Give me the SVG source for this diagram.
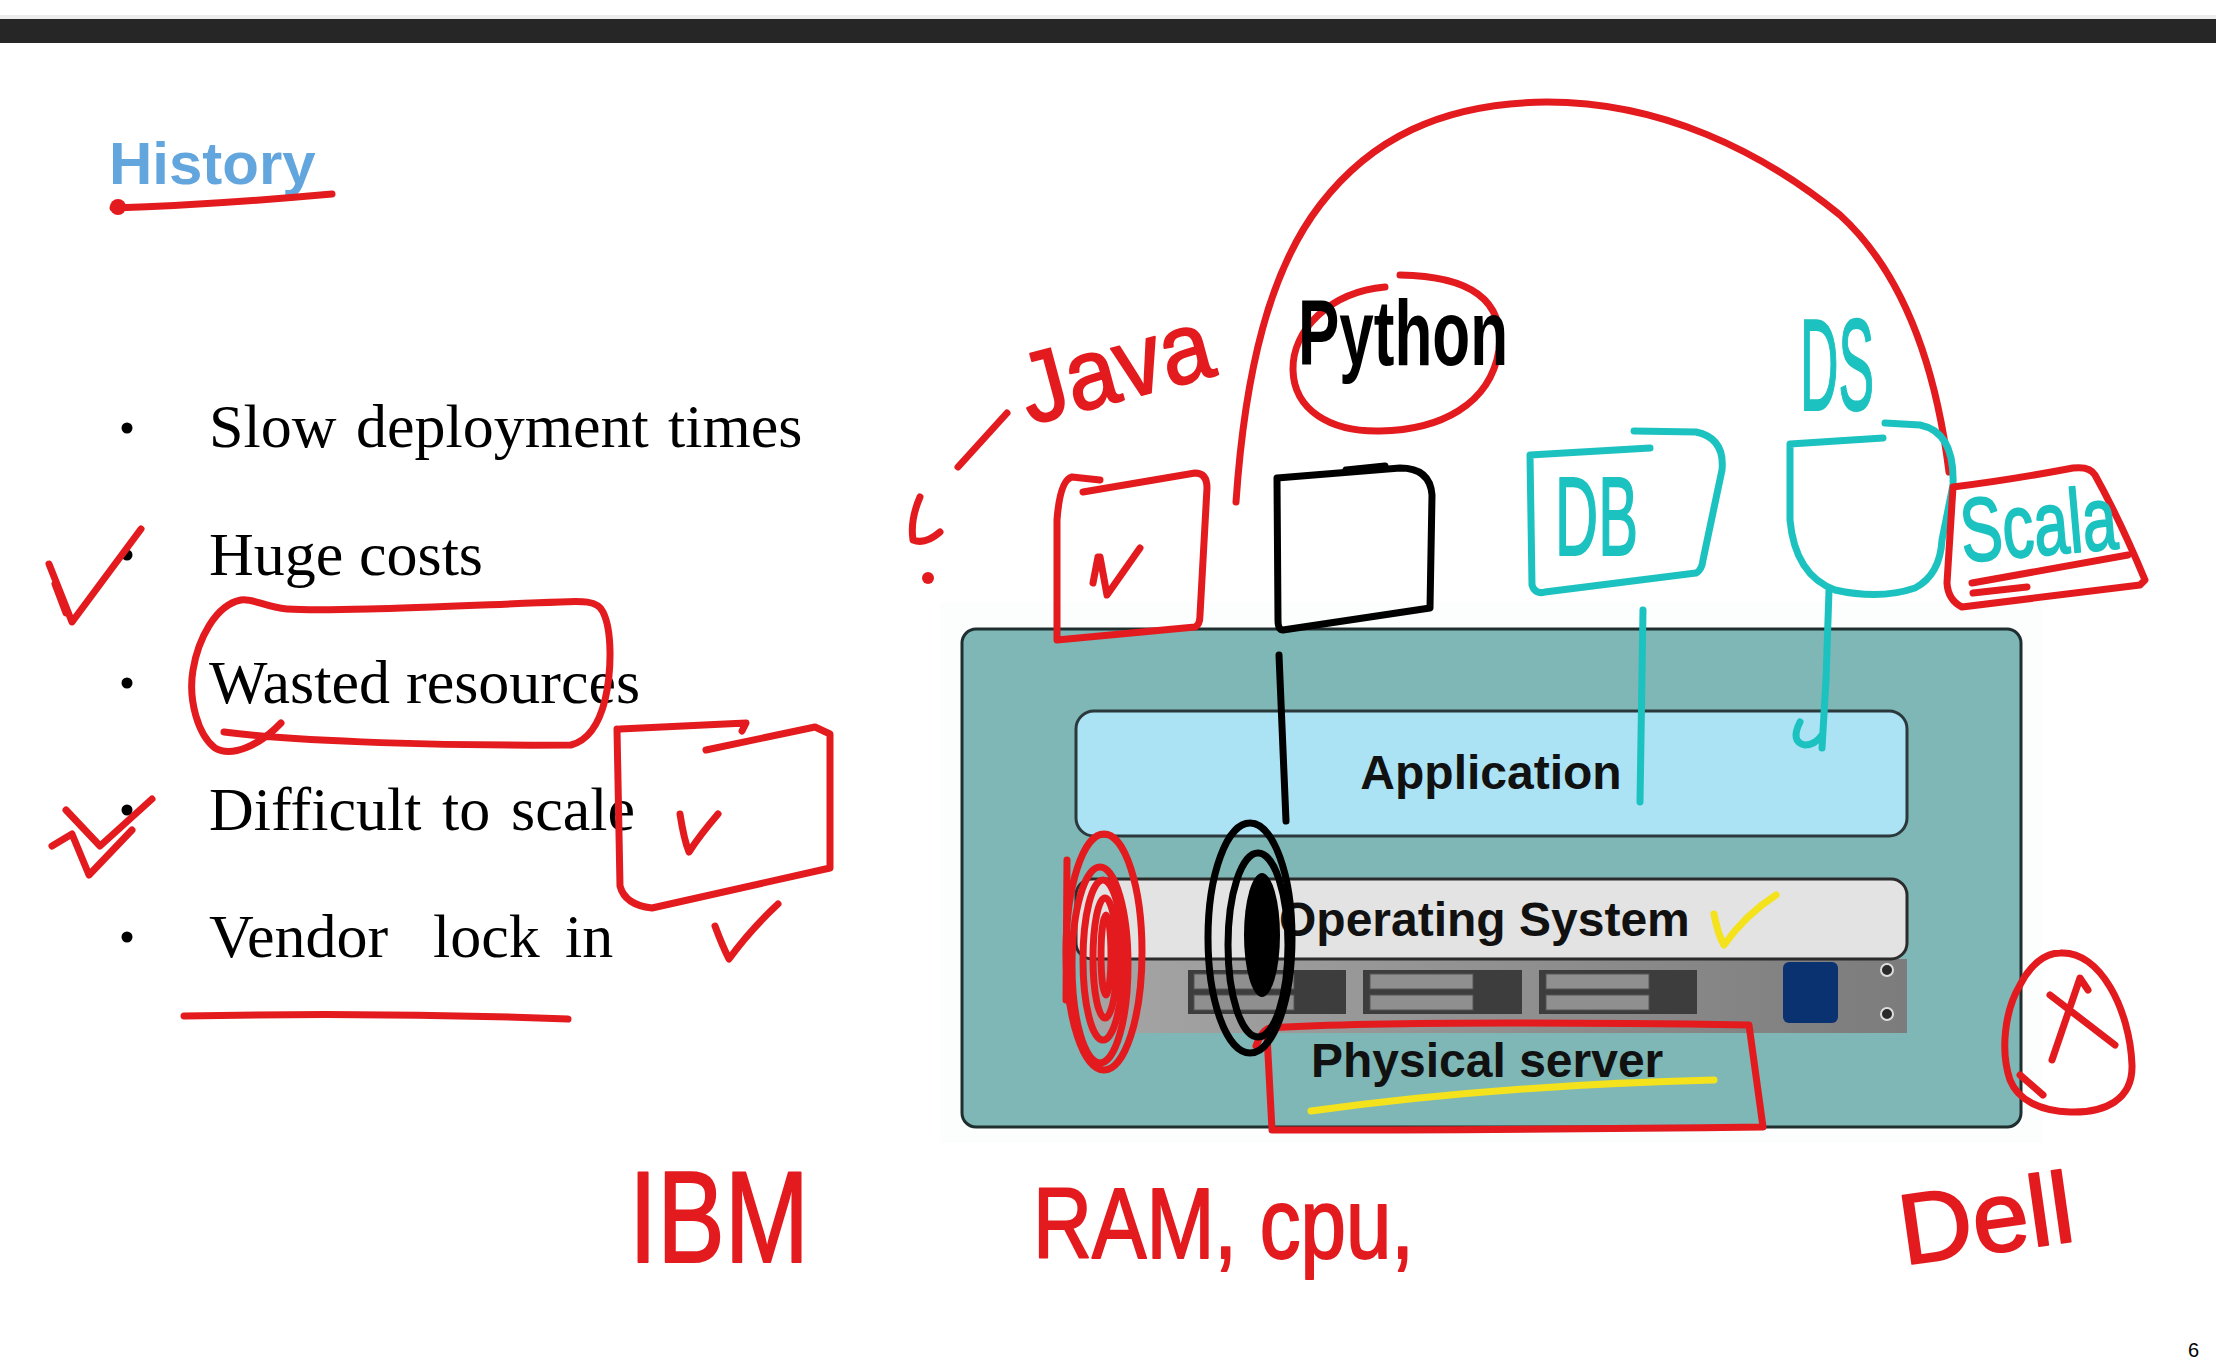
<svg xmlns="http://www.w3.org/2000/svg" width="2216" height="1360" viewBox="0 0 2216 1360">
<style>
.bul{font-family:"Liberation Serif","Times New Roman",serif;font-size:62px;fill:#000}
.lbl{font-family:"Liberation Sans",Arial,sans-serif;font-weight:bold;font-size:48px;fill:#111}
.hw{font-family:"Liberation Sans",Arial,sans-serif;stroke-linejoin:round}
.red{fill:#E31B1F;stroke:#E31B1F;stroke-width:2}
.cy{fill:#1CC2C0;stroke:#1CC2C0;stroke-width:2}
.ink-r{fill:none;stroke:#E31B1F;stroke-width:7;stroke-linecap:round;stroke-linejoin:round}
.ink-k{fill:none;stroke:#000;stroke-width:7;stroke-linecap:round;stroke-linejoin:round}
.ink-c{fill:none;stroke:#1CC2C0;stroke-width:7;stroke-linecap:round;stroke-linejoin:round}
.ink-y{fill:none;stroke:#F4E21C;stroke-width:7;stroke-linecap:round;stroke-linejoin:round}
.bay{fill:#3d3d3d}
.slot{fill:#8f8f8f;stroke:#555;stroke-width:1}
</style>
<defs>
<linearGradient id="strip" x1="0" y1="0" x2="1" y2="0">
<stop offset="0" stop-color="#a5a5a5"/>
<stop offset="1" stop-color="#7c7c7c"/>
</linearGradient>
</defs>
<rect width="2216" height="1360" fill="#fff"/>
<rect x="0" y="15" width="2216" height="4" fill="#ececec"/>
<rect x="0" y="19" width="2216" height="24" fill="#262626"/>

<g id="title">
<text x="109" y="184" font-family="'Liberation Sans',Arial,sans-serif" font-weight="bold" font-size="60" fill="#63A6DE">History</text>
<path class="ink-r" d="M113,208 Q210,205 332,194" stroke-width="10"/>
<circle cx="118" cy="207" r="8" fill="#E31B1F"/>
</g>

<g id="bullets">
<circle cx="127" cy="428" r="5.5"/><circle cx="127" cy="555" r="5.5"/><circle cx="127" cy="683" r="5.5"/><circle cx="127" cy="810" r="5.5"/><circle cx="127" cy="937" r="5.5"/>
<text class="bul" y="447"><tspan x="209">Slow</tspan><tspan x="356">deployment</tspan><tspan x="668">times</tspan></text>
<text class="bul" y="575"><tspan x="209">Huge</tspan><tspan x="359">costs</tspan></text>
<text class="bul" y="703"><tspan x="209">Wasted</tspan><tspan x="406">resources</tspan></text>
<text class="bul" y="830"><tspan x="209">Difficult</tspan><tspan x="442">to</tspan><tspan x="511">scale</tspan></text>
<text class="bul" y="957"><tspan x="209">Vendor</tspan><tspan x="433">lock</tspan><tspan x="565">in</tspan></text>
</g>

<g id="server">
<rect x="940" y="602" width="1102" height="541" fill="#fcfdfd"/>
<rect x="962" y="629" width="1059" height="498" rx="14" fill="#7EB7B5" stroke="#1f2e2e" stroke-width="3"/>
<g id="application">
<rect x="1076" y="711" width="831" height="125" rx="18" fill="#ABE3F5" stroke="#2b383c" stroke-width="3"/>
<text class="lbl" x="1491" y="789" text-anchor="middle">Application</text>
</g>
<g id="hardware">
<rect x="1088" y="959" width="819" height="74" fill="url(#strip)"/>
<rect class="bay" x="1188" y="970" width="158" height="44"/>
<rect class="bay" x="1363" y="970" width="159" height="44"/>
<rect class="bay" x="1539" y="970" width="158" height="44"/>
<rect class="slot" x="1194" y="974" width="100" height="15"/><rect class="slot" x="1194" y="995" width="100" height="15"/>
<rect class="slot" x="1370" y="974" width="103" height="15"/><rect class="slot" x="1370" y="995" width="103" height="15"/>
<rect class="slot" x="1546" y="974" width="103" height="15"/><rect class="slot" x="1546" y="995" width="103" height="15"/>
<rect x="1783" y="962" width="55" height="61" rx="6" fill="#0b3270"/>
<circle cx="1887" cy="970" r="6" fill="#2a2a2a" stroke="#ddd" stroke-width="2"/>
<circle cx="1887" cy="1014" r="6" fill="#2a2a2a" stroke="#ddd" stroke-width="2"/>
</g>
<g id="os">
<rect x="1076" y="879" width="831" height="80" rx="16" fill="#E3E3E3" stroke="#2b2b2b" stroke-width="3"/>
<text class="lbl" x="1279" y="936">Operating System</text>
</g>
<g id="physical">
<text class="lbl" x="1311" y="1077">Physical server</text>
</g>
</g>

<g id="annotations">
<path class="ink-r" stroke-width="7" d="M1236,502 C1245,370 1270,270 1320,205 C1370,140 1440,103 1547,102 C1660,102 1760,150 1840,215 C1900,270 1935,360 1949,472"/>
<path class="ink-r" d="M1007,413 L958,467"/>
<path class="ink-r" d="M920,497 Q910,520 913,540 Q925,545 940,532"/>
<circle cx="928" cy="578" r="6" fill="#E31B1F"/>
<path class="ink-r" stroke-width="8" d="M1100,480 L1072,477 Q1060,480 1057,520 L1057,640 L1195,627 Q1200,625 1200,615 L1207,488 Q1207,473 1195,473 L1083,492"/>
<path class="ink-r" stroke-width="10" d="M1098,557 L1093,583 M1100,557 L1107,595 L1140,548"/>
<path class="ink-k" stroke-width="8" d="M1277,478 L1400,468 Q1430,468 1432,495 L1430,608 L1283,630 Q1278,630 1278,620 Z"/>
<path class="ink-k" stroke-width="10" d="M1346,470 L1385,466"/>
<path class="ink-r" d="M1385,287 C1330,292 1292,330 1293,370 C1294,410 1330,432 1380,431 C1440,430 1490,405 1499,350 C1505,300 1470,276 1400,275"/>
<path class="ink-c" d="M1650,448 L1530,455 L1532,585 Q1535,595 1545,592 L1696,573 Q1702,570 1703,560 L1722,470 Q1725,438 1696,432 L1634,431"/>
<path class="ink-c" d="M1883,438 L1790,444 L1790,520 Q1795,575 1835,590 Q1880,600 1915,588 Q1940,575 1942,540 L1953,485 Q1955,432 1920,425 L1885,423"/>
<path class="ink-r" stroke-width="9" d="M1953,487 Q2010,480 2073,468 Q2090,466 2095,475 Q2120,520 2145,580 L2140,585 L1962,607 Q1948,600 1947,583 Z"/>
<path class="ink-r" stroke-width="8" d="M2060,953 C2100,950 2130,1010 2132,1065 C2133,1100 2105,1113 2070,1112 C2040,1111 2018,1100 2010,1080 C2000,1050 2005,1010 2020,985 C2030,965 2045,953 2060,953 Z"/>
<path class="ink-r" stroke-width="8" d="M2052,1060 L2080,978 L2088,990 M2050,995 L2115,1045 M2020,1075 L2043,1095"/>
<path class="ink-r" d="M224,732 C300,742 450,746 571,745 C590,740 600,720 605,700 C612,670 612,630 603,612 C598,600 580,601 560,602 C450,606 330,612 287,609 C265,607 252,598 241,600 C215,605 198,640 193,670 C188,700 198,735 215,748 C232,758 260,745 281,723"/>
<path class="ink-r" d="M49,564 L72,622 L141,529 M55,584 L66,613"/>
<path class="ink-r" d="M52,846 L72,834 L89,875 L132,830 M66,810 L100,846 L152,799"/>
<path class="ink-r" d="M620,729 L746,723 L742,731 M706,750 L815,727 L830,734 L830,868 L652,908 Q625,905 620,886 L617,729"/>
<path class="ink-r" d="M680,814 Q684,840 689,852 Q700,835 718,814"/>
<path class="ink-r" d="M715,926 Q722,945 729,959 Q750,930 778,904"/>
<path class="ink-r" d="M184,1016 Q380,1012 568,1019"/>
<path class="ink-r" stroke-width="8" d="M1256,1046 Q1262,1030 1270,1028 Q1400,1020 1749,1025 L1763,1127 Q1500,1130 1272,1130 L1267,1035"/>
<path class="ink-y" d="M1311,1111 Q1500,1085 1714,1080"/>
<path class="ink-y" d="M1714,914 Q1718,935 1724,945 Q1745,915 1776,895"/>
<ellipse class="ink-r" cx="1104" cy="952" rx="38" ry="118" stroke-width="7"/>
<ellipse class="ink-r" cx="1100" cy="965" rx="28" ry="98" stroke-width="7"/>
<ellipse class="ink-r" cx="1103" cy="960" rx="20" ry="80" stroke-width="7"/>
<ellipse class="ink-r" cx="1105" cy="958" rx="12" ry="60" stroke-width="7"/>
<ellipse class="ink-r" cx="1106" cy="955" rx="5" ry="40" stroke-width="6"/>
<path class="ink-r" stroke-width="7" d="M1067,860 L1066,1000"/>
<path class="ink-k" stroke-width="6" d="M1279,655 L1286,821"/>
<ellipse class="ink-k" cx="1250" cy="938" rx="42" ry="115" stroke-width="7"/>
<ellipse class="ink-k" cx="1258" cy="945" rx="30" ry="92" stroke-width="7"/>
<ellipse cx="1262" cy="935" rx="18" ry="62" fill="#000"/>
<path class="ink-c" d="M1643,610 L1640,802"/>
<path class="ink-c" d="M1829,590 L1826,680 L1822,748 M1800,722 Q1790,742 1805,745 Q1815,745 1822,735"/>
<path class="ink-r" stroke-width="10" d="M1972,583 L2128,555"/>
<path class="ink-r" stroke-width="6" d="M1973,593 L2027,587"/>
</g>

<g id="handwriting">
<text class="hw red" x="1030" y="425" font-size="100" textLength="195" lengthAdjust="spacingAndGlyphs" transform="rotate(-15 1030 425)">Java</text>
<text class="hw" x="1298" y="365" font-size="92" font-weight="bold" fill="#000" textLength="210" lengthAdjust="spacingAndGlyphs">Python</text>
<text class="hw cy" x="1800" y="410" font-size="130" textLength="74" lengthAdjust="spacingAndGlyphs">DS</text>
<text class="hw cy" x="1555" y="555" font-size="112" textLength="83" lengthAdjust="spacingAndGlyphs">DB</text>
<text class="hw cy" x="1963" y="562" font-size="90" textLength="157" lengthAdjust="spacingAndGlyphs" transform="rotate(-5 1963 562)">Scala</text>
<text class="hw red" x="629" y="1262" font-size="130" textLength="180" lengthAdjust="spacingAndGlyphs">IBM</text>
<text class="hw red" x="1033" y="1258" font-size="100" textLength="381" lengthAdjust="spacingAndGlyphs">RAM, cpu,</text>
<text class="hw red" x="1904" y="1265" font-size="100" textLength="175" lengthAdjust="spacingAndGlyphs" transform="rotate(-8 1904 1265)">Dell</text>
</g>

<text x="2188" y="1357" font-family="'Liberation Sans',Arial,sans-serif" font-size="20" fill="#000">6</text>
</svg>
